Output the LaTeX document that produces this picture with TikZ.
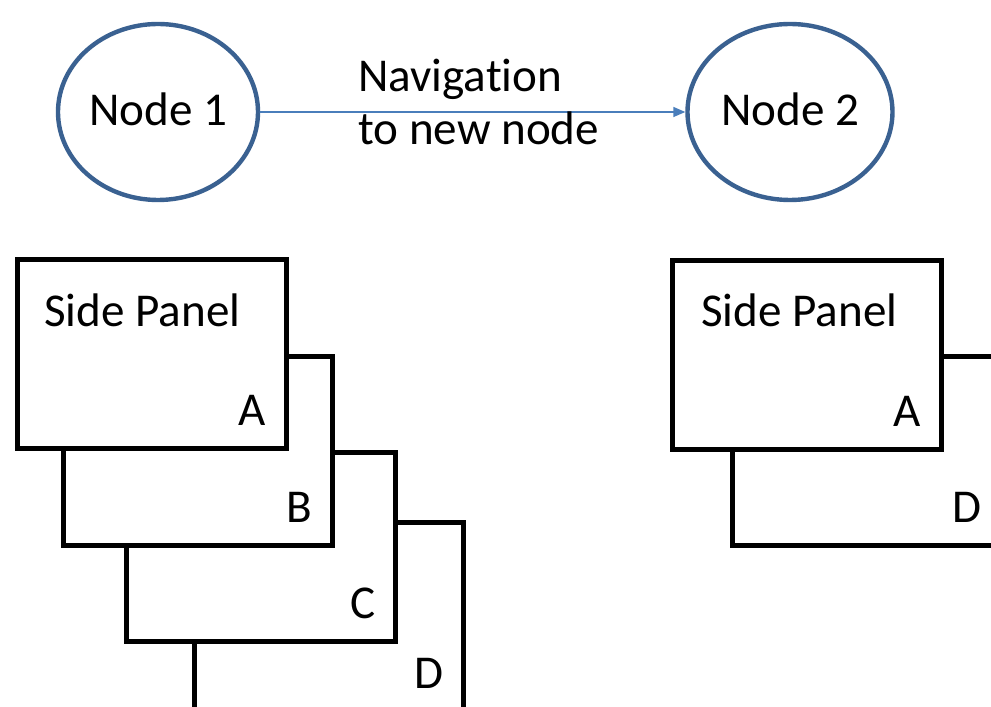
\documentclass[tikz,border=0pt]{standalone}
\usepackage{fontspec}
\setmainfont{Carlito}[Ligatures=NoCommon]
\usetikzlibrary{calc,arrows.meta,positioning,shapes.geometric}
\definecolor{nodeblue}{HTML}{3A6191}
\definecolor{arrowblue}{HTML}{4A7EBB}

\begin{document}
\begin{tikzpicture}[>=Latex,line cap=round,
    font=\fontsize{26.8}{28.5}\selectfont,
    navnode/.style={ellipse,draw=nodeblue,line width=2.5pt,minimum width=4.0cm,
                    minimum height=3.52cm,inner sep=0pt,text depth=0.3em},
    panel/.style={rectangle,draw=black,fill=white,line width=2.6pt,anchor=north west,
                  minimum width=5.38cm,minimum height=3.78cm,inner sep=0pt},
    tag/.style={anchor=base east,inner sep=0pt}]
  \useasboundingbox (0,0) rectangle (19.82,14.14);
  \clip (0,0) rectangle (19.82,14.14);
  \node[navnode] (n1) at (3.16,11.90) {Node 1};
  \node[navnode,minimum width=4.1cm] (n2) at (15.80,11.90) {Node 2};
  \draw[arrowblue,line width=0.85pt,-{Triangle[length=0.24cm,width=0.2cm]}] (n1) -- (n2);
  \node[align=left,anchor=west,inner sep=0pt,font=\fontsize{26.8}{30.5}\selectfont]
       (nav) at (7.16,12.10) {Navigation\\to new node};
  % left stack
  \foreach \pn/\x/\y/\txt in {pd/3.84/3.74/D,pc/2.48/5.14/C,pb/1.22/7.06/B,pa/0.30/9.00/A}{
    \node[panel] (\pn) at (\x,\y) {};
    \node[tag] (t\pn) at ($(\pn.south east)+(-0.44,0.5)$) {\txt};
  }
  \node[anchor=base west,inner sep=0pt] (spl) at ($(pa.north west)+(0.58,-1.39)$) {Side Panel};
  % right stack
  \foreach \pn/\x/\y/\txt in {qd/14.60/7.06/D,qa/13.40/8.98/A}{
    \node[panel] (\pn) at (\x,\y) {};
    \node[tag] (t\pn) at ($(\pn.south east)+(-0.44,0.5)$) {\txt};
  }
  \node[anchor=base west,inner sep=0pt] (spr) at ($(qa.north west)+(0.62,-1.38)$) {Side Panel};
\end{tikzpicture}
\end{document}
